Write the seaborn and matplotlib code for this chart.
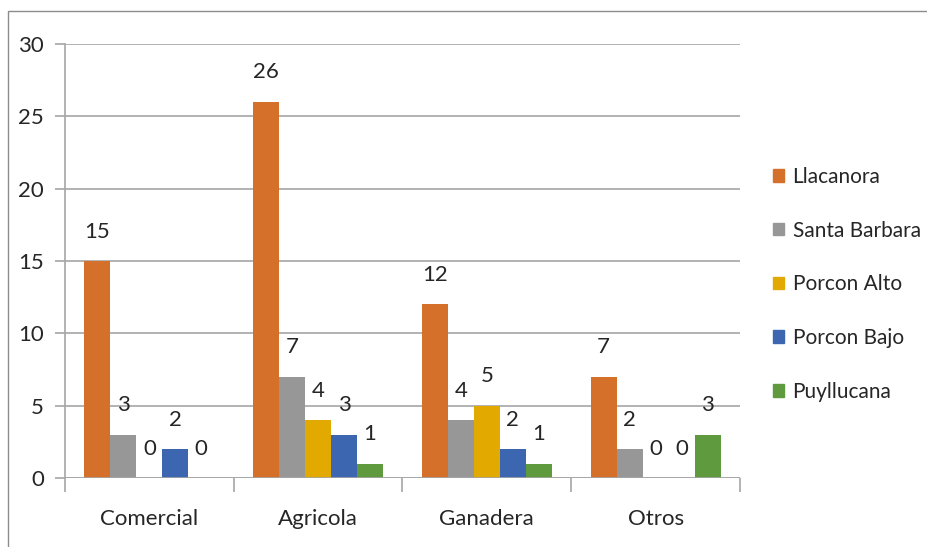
import matplotlib
matplotlib.use("Agg")
import matplotlib.pyplot as plt
import matplotlib.patches as mpatches
from matplotlib.ticker import FixedLocator
import numpy as np
import pandas as pd
import seaborn as sns

categories = ["Comercial", "Agricola", "Ganadera", "Otros"]
series = ["Llacanora", "Santa Barbara", "Porcon Alto", "Porcon Bajo", "Puyllucana"]
llacanora = [15, 26, 12, 7]
santa_barbara = [3, 7, 4, 2]
porcon_alto = [0, 4, 5, 0]
porcon_bajo = [2, 3, 2, 0]
puyllucana = [0, 1, 1, 3]
colors = ["#D5702B", "#979797", "#E2AA00", "#3C66B0", "#5F9A3E"]

values = [llacanora, santa_barbara, porcon_alto, porcon_bajo, puyllucana]
df = pd.DataFrame(
    [(c, s, v[i]) for s, v in zip(series, values) for i, c in enumerate(categories)],
    columns=["categoria", "zona", "valor"],
)

sns.set_theme(style="white")
plt.rcParams["font.family"] = ["Lato", "DejaVu Sans"]
text_color = "#262626"
grid_color = "#A6A6A6"

fig = plt.figure(figsize=(9.28, 5.47), dpi=100)
W, H = 928, 547
ax = fig.add_axes([65 / W, 1 - 478 / H, (740 - 65) / W, (478 - 44) / H])

# chart frame
fig.patches.append(mpatches.Rectangle((8 / W, -0.05), 1.1, 1 - 11 / H + 0.05,
                                      transform=fig.transFigure, fill=False,
                                      edgecolor="#8C8C8C", linewidth=1.0))

sns.barplot(data=df, x="categoria", y="valor", hue="zona", order=categories,
            hue_order=series, palette=colors, width=5 / 6.5, saturation=1,
            edgecolor="none", linewidth=0, ax=ax, legend=False, errorbar=None)

ax.set_xlim(-0.5, len(categories) - 0.5)
ax.set_ylim(0, 30)
ax.set_yticks(range(0, 31, 5))
ax.yaxis.grid(True, color=grid_color, linewidth=1.2)
ax.set_axisbelow(True)
ax.set_xlabel("")
ax.set_ylabel("")
for side in ["top", "right", "bottom"]:
    ax.spines[side].set_visible(False)
ax.spines["left"].set_color(grid_color)
ax.spines["left"].set_linewidth(1.2)
ax.axhline(0, color=grid_color, linewidth=1.2, zorder=3)

ax.tick_params(axis="y", which="major", length=7, width=1.2, color=grid_color,
               labelsize=16, labelcolor=text_color, pad=8, left=True)
ax.tick_params(axis="x", which="major", length=0, labelsize=16,
               labelcolor=text_color, pad=22)
ax.xaxis.set_minor_locator(FixedLocator(np.arange(-0.5, len(categories), 1.0)))
ax.tick_params(axis="x", which="minor", length=10, width=1.2, color=grid_color,
               bottom=True)

# value labels above each bar
for container in ax.containers:
    ax.bar_label(container, labels=[f"{int(b.get_height())}" for b in container],
                 padding=14, fontsize=16, color=text_color)

handles = [mpatches.Patch(color=c, label=s) for c, s in zip(colors, series)]
fig.legend(handles=handles, loc="upper left", bbox_to_anchor=(754 / W, 1 - 148 / H),
           frameon=False, fontsize=15, labelcolor=text_color, handlelength=0.55,
           handleheight=0.55, handletextpad=0.4, labelspacing=1.62)

fig.savefig("out.png", dpi=100)
